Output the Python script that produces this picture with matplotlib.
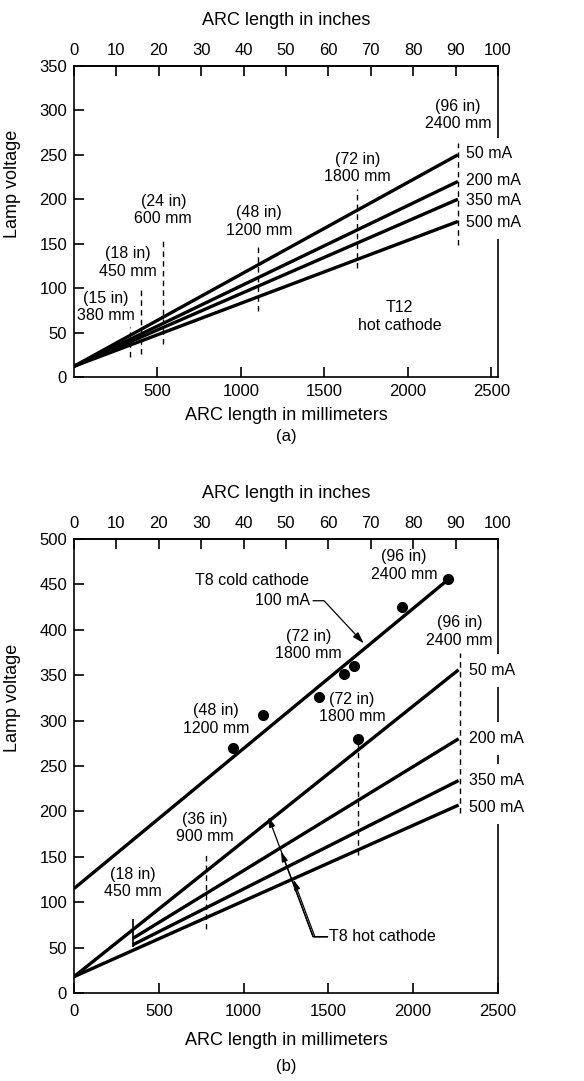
import matplotlib.pyplot as plt

plt.rcParams['font.family'] = ['Liberation Sans', 'DejaVu Sans']

currents = ['50 mA', '200 mA', '350 mA', '500 mA']

# ---- (a) T12 hot cathode ----
t12_start_v = 12
t12_end_mm = 2300
t12_end_v = [250, 220, 200, 175]
t12_label_x = 2347
t12_label_v = [251, 221, 199, 174]
# dashed length markers (mm, low V, high V)
t12_mark_x = [333, 401, 535, 1102, 1698, 2300]
t12_mark_lo = [22, 26, 37, 74, 123, 149]
t12_mark_hi = [56, 100, 154, 150, 211, 263]
t12_text = ['(15 in)\n380 mm', '(18 in)\n450 mm', '(24 in)\n600 mm',
            '(48 in)\n1200 mm', '(72 in)\n1800 mm', '(96 in)\n2400 mm']
t12_text_x = [190, 323, 535, 1108, 1700, 2300]
t12_text_v = [79, 129, 188, 175, 235, 295]

# ---- (b) T8 hot and cold cathode ----
t8_start_mm = [0, 346, 346, 0]
t8_start_v = [18, 60, 53, 18]
t8_end_mm = 2268
t8_end_v = [356, 280, 234, 207]
t8_label_x = 2332
t8_label_v = [355, 280, 234, 204]

cold_start_v = 115
cold_end_mm = 2204
cold_end_v = 455
cold_pts_mm = [939, 1113, 1443, 1591, 1650, 1674, 1937, 2204]
cold_pts_v = [270, 306, 326, 351, 360, 280, 425, 456]

t8_mark_x = [781, 1674, 2279]
t8_mark_lo = [70, 152, 198]
t8_mark_hi = [154, 280, 374]
t8_tick_x, t8_tick_lo, t8_tick_hi = 346, 51, 81
t8_text = ['(18 in)\n450 mm', '(36 in)\n900 mm', '(48 in)\n1200 mm',
           '(72 in)\n1800 mm', '(72 in)\n1800 mm', '(96 in)\n2400 mm',
           '(96 in)\n2400 mm']
t8_text_x = [346, 771, 836, 1383, 1640, 1947, 2273]
t8_text_v = [121, 182, 301, 383, 314, 471, 398]

hot_arrow_mm = [1146, 1221, 1294]
hot_arrow_v = [194, 156, 125]

FS = 11.5
ARROW = dict(arrowstyle='-|>,head_length=0.6,head_width=0.18', color='black',
             lw=0.9, shrinkA=0, shrinkB=0)

fig = plt.figure(figsize=(5.84, 10.81), dpi=100)
ax1 = fig.add_axes([0.1267, 0.6513, 0.726, 0.2877])
ax2 = fig.add_axes([0.1267, 0.0814, 0.726, 0.42])


def style(ax, xmax, ymax, xticks, in_per_mm, xpad, xlabelpad):
    ax.set_xlim(0, xmax)
    ax.set_ylim(0, ymax)
    for s in ax.spines.values():
        s.set_linewidth(1.2)
    ax.set_yticks(range(0, ymax + 1, 50))
    ax.set_xticks(xticks)
    ax.tick_params(direction='in', length=7, width=1.2, labelsize=12)
    ax.tick_params(axis='y', pad=5)
    ax.tick_params(axis='x', pad=xpad)
    ax.set_xlabel('ARC length in millimeters', fontsize=13, labelpad=xlabelpad)
    ax.set_ylabel('Lamp voltage', fontsize=13)
    sec = ax.secondary_xaxis('top', functions=(lambda x: x / in_per_mm,
                                               lambda x: x * in_per_mm))
    sec.set_xticks(range(0, 101, 10))
    sec.tick_params(direction='in', length=7, width=1.2, labelsize=12, pad=6)
    sec.spines['top'].set_linewidth(1.2)
    sec.set_xlabel('ARC length in inches', fontsize=13, labelpad=13)
    return sec


def current_labels(ax, x, vals):
    # white boxes break the right spine behind the labels
    for lab, v in zip(currents, vals):
        ax.text(x, v, lab, fontsize=FS, va='center', ha='left', color='white',
                zorder=2.6,
                bbox=dict(boxstyle='square,pad=0.55', fc='white', ec='none'))
    for lab, v in zip(currents, vals):
        ax.text(x, v, lab, fontsize=FS, va='center', ha='left', zorder=3)


style(ax1, 2540, 350, range(500, 2501, 500), 25.4, 5, 6)
ax1.yaxis.set_label_coords(-0.125, 0.62)

for v1 in t12_end_v:
    ax1.plot([0, t12_end_mm], [t12_start_v, v1], color='black', lw=2.4,
             solid_capstyle='butt', zorder=4)
current_labels(ax1, t12_label_x, t12_label_v)
ax1.vlines(t12_mark_x, t12_mark_lo, t12_mark_hi, colors='black', lw=1.0,
           linestyles=(0, (4, 3)), zorder=4)
for s, x, v in zip(t12_text, t12_text_x, t12_text_v):
    ax1.text(x, v, s, fontsize=FS, ha='center', va='center', multialignment='center')
ax1.text(1950, 68, 'T12\nhot cathode', fontsize=FS, ha='center', va='center',
         multialignment='center')
fig.text(0.49, 1 - 436 / 1081, '(a)', fontsize=12, ha='center', va='center')

style(ax2, 2500, 500, range(0, 2501, 500), 25.0, 8, 9)
ax2.yaxis.set_label_coords(-0.125, 0.65)

for x0, v0, v1 in zip(t8_start_mm, t8_start_v, t8_end_v):
    ax2.plot([x0, t8_end_mm], [v0, v1], color='black', lw=2.4,
             solid_capstyle='butt', zorder=4)
current_labels(ax2, t8_label_x, t8_label_v)
ax2.plot([0, cold_end_mm], [cold_start_v, cold_end_v], color='black', lw=2.4,
         solid_capstyle='butt', zorder=4)
ax2.plot(cold_pts_mm, cold_pts_v, 'o', color='black', ms=7, zorder=5)
ax2.vlines(t8_mark_x, t8_mark_lo, t8_mark_hi, colors='black', lw=1.0,
           linestyles=(0, (4, 3)), zorder=4)
ax2.vlines(t8_tick_x, t8_tick_lo, t8_tick_hi, colors='black', lw=1.2, zorder=4)
for s, x, v in zip(t8_text, t8_text_x, t8_text_v):
    ax2.text(x, v, s, fontsize=FS, ha='center', va='center', multialignment='center')

ax2.text(1047, 454, 'T8 cold cathode', fontsize=FS, ha='center', va='center')
ax2.annotate('100 mA', xy=(1709, 385), xytext=(1393, 432), fontsize=FS,
             ha='right', va='center',
             arrowprops=dict(ARROW, relpos=(1, 0.5),
                             connectionstyle='angle,angleA=0,angleB=-47,rad=0'))

ax2.text(1502, 62, 'T8 hot cathode', fontsize=FS, ha='left', va='center')
for x, v in zip(hot_arrow_mm, hot_arrow_v):
    ax2.annotate('', xy=(x, v), xytext=(1495, 62),
                 arrowprops=dict(ARROW,
                                 connectionstyle='angle,angleA=0,angleB=110.5,rad=0'))
fig.text(0.49, 1 - 1066 / 1081, '(b)', fontsize=12, ha='center', va='center')

fig.savefig('out.png', dpi=100)
